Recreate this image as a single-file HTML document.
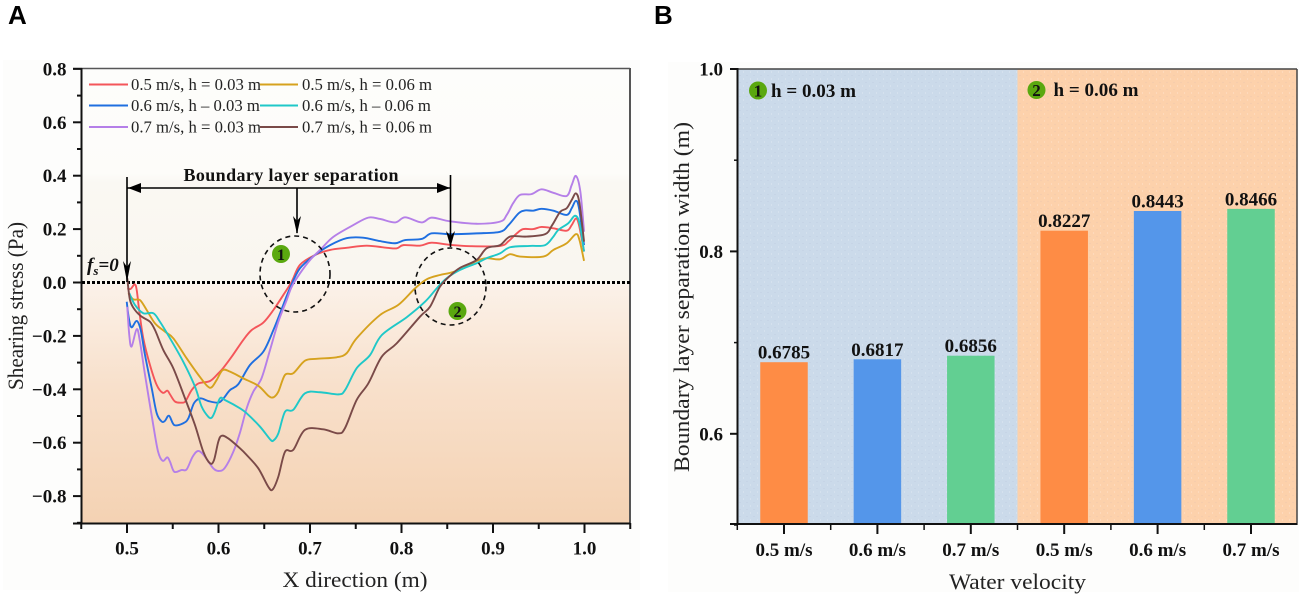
<!DOCTYPE html>
<html lang="en">
<head>
<meta charset="utf-8">
<title>Shearing stress and boundary layer separation width</title>
<style>
html,body{margin:0;padding:0;background:#fff;width:1299px;height:600px;overflow:hidden}
svg{display:block}
text{font-family:"Liberation Serif",serif;fill:#111}
.tick{font-weight:bold;font-size:19px}
.leg{font-size:16.7px;fill:#222}
.title{font-size:22px;fill:#222}
.panel{font-family:"Liberation Sans",sans-serif;font-weight:bold;font-size:26px;fill:#000}
</style>
</head>
<body>
<svg id="fig" xmlns="http://www.w3.org/2000/svg" width="1299" height="600" viewBox="0 0 1299 600">
  <defs>
    <linearGradient id="gradA" x1="0" y1="0" x2="0" y2="1">
      <stop offset="0" stop-color="#fdfdfb"/>
      <stop offset="0.23" stop-color="#fdfcf9"/>
      <stop offset="0.25" stop-color="#faf8f3"/>
      <stop offset="0.47" stop-color="#f9f6ef"/>
      <stop offset="0.48" stop-color="#fbf1e8"/>
      <stop offset="0.7" stop-color="#f8e0cb"/>
      <stop offset="1" stop-color="#f4d2b3"/>
    </linearGradient>
    <pattern id="stipple" width="7" height="7" patternUnits="userSpaceOnUse">
      <circle cx="1.5" cy="2" r="0.6" fill="#ffffff" opacity="0.35"/>
      <circle cx="5" cy="5.5" r="0.6" fill="#8a7fb0" opacity="0.12"/>
    </pattern>
  </defs>
  <rect x="0" y="0" width="1299" height="600" fill="#ffffff"/>
  <rect x="3" y="60" width="637" height="530" fill="#fdfdfc"/>
  <rect x="668" y="62" width="631" height="530" fill="#fdfdfc"/>

  <text class="panel" x="8" y="24">A</text>
  <text class="panel" x="654" y="24">B</text>

  <g id="chartA">
    <rect x="82" y="69" width="548" height="454" fill="url(#gradA)"/>
    <g id="axesA"></g>
    <line x1="82" y1="282.5" x2="630" y2="282.5" stroke="#000" stroke-width="3" stroke-dasharray="3 2"/>
    <g id="linesA"></g>
    <text class="title" x="355" y="587" text-anchor="middle" textLength="145" lengthAdjust="spacingAndGlyphs">X direction (m)</text>
    <text class="title" transform="translate(23,306) rotate(-90)" text-anchor="middle" textLength="168" lengthAdjust="spacingAndGlyphs">Shearing stress (Pa)</text>

    <g>
      <g><line x1="89" x2="128" y1="84.5" y2="84.5" stroke="#f4555a" stroke-width="2"/><text class="leg" x="131" y="90">0.5 m/s, h = 0.03 m</text></g>
      <g><line x1="89" x2="128" y1="105.5" y2="105.5" stroke="#1f6fe0" stroke-width="2"/><text class="leg" x="131" y="111">0.6 m/s, h – 0.03 m</text></g>
      <g><line x1="89" x2="128" y1="127" y2="127" stroke="#b57fe8" stroke-width="2"/><text class="leg" x="131" y="132.5">0.7 m/s, h = 0.03 m</text></g>
      <g><line x1="260" x2="298" y1="84.5" y2="84.5" stroke="#d6a21e" stroke-width="2"/><text class="leg" x="302" y="90">0.5 m/s, h = 0.06 m</text></g>
      <g><line x1="260" x2="298" y1="105.5" y2="105.5" stroke="#1fc8c8" stroke-width="2"/><text class="leg" x="302" y="111">0.6 m/s, h – 0.06 m</text></g>
      <g><line x1="260" x2="298" y1="127" y2="127" stroke="#7a4a48" stroke-width="2"/><text class="leg" x="302" y="132.5">0.7 m/s, h = 0.06 m</text></g>
    </g>

    <g>
      <text x="291" y="181" text-anchor="middle" font-weight="bold" font-size="18" textLength="215">Boundary layer separation</text>
      <line x1="127" y1="188" x2="450" y2="188" stroke="#000" stroke-width="1.6"/>
      <path d="M128 188 L141 183 L141 193 Z" fill="#000"/>
      <path d="M450 188 L437 183 L437 193 Z" fill="#000"/>
      <line x1="127" y1="177" x2="127" y2="282" stroke="#000" stroke-width="1.6"/>
      <path d="M127 282 L123 261 L127 267 L131 261 Z" fill="#000"/>
      <line x1="450.5" y1="175" x2="450.5" y2="247" stroke="#000" stroke-width="1.6"/>
      <path d="M450.5 247 L446 231 L450.5 236 L455 231 Z" fill="#000"/>
      <line x1="297" y1="188" x2="297" y2="233" stroke="#000" stroke-width="1.6"/>
      <path d="M297 234 L293 216 L297 221 L301 216 Z" fill="#000"/>
      <ellipse cx="295" cy="274" rx="35" ry="38" fill="none" stroke="#111" stroke-width="1.6" stroke-dasharray="5 4"/>
      <ellipse cx="450.5" cy="286.5" rx="35.5" ry="38.5" fill="none" stroke="#111" stroke-width="1.6" stroke-dasharray="5 4"/>
      <circle cx="281" cy="254" r="9" fill="#5aa80f"/>
      <text x="281" y="260" text-anchor="middle" font-weight="bold" font-size="16">1</text>
      <circle cx="457.5" cy="311" r="9" fill="#5aa80f"/>
      <text x="457.5" y="317" text-anchor="middle" font-weight="bold" font-size="16">2</text>
      <text x="87" y="271" font-weight="bold" font-style="italic" font-size="19">f<tspan dy="4" font-size="13">s</tspan><tspan dy="-4">=0</tspan></text>
    </g>
  </g>

  <g id="chartB">
    <rect x="738" y="69" width="279.5" height="455" fill="#cbdaea"/>
    <rect x="1017.5" y="69" width="279.5" height="455" fill="#fdd1ab"/>
    <rect x="738" y="69" width="559" height="455" fill="url(#stipple)"/>
    <g id="barsB"></g>
    <g id="axesB"></g>
    <circle cx="758" cy="90.5" r="9" fill="#5aa80f"/>
    <text x="758" y="96.5" text-anchor="middle" font-weight="bold" font-size="17">1</text>
    <text x="771" y="97" font-weight="bold" font-size="19" textLength="85" lengthAdjust="spacingAndGlyphs">h = 0.03 m</text>
    <circle cx="1036.5" cy="90" r="9" fill="#5aa80f"/>
    <text x="1036.5" y="96" text-anchor="middle" font-weight="bold" font-size="17">2</text>
    <text x="1053.5" y="96" font-weight="bold" font-size="19" textLength="85" lengthAdjust="spacingAndGlyphs">h = 0.06 m</text>
    <text class="title" x="1017.5" y="589" text-anchor="middle" textLength="137" lengthAdjust="spacingAndGlyphs">Water velocity</text>
    <text class="title" transform="translate(689,297) rotate(-90)" text-anchor="middle" textLength="350" lengthAdjust="spacingAndGlyphs">Boundary layer separation width (m)</text>
  </g>
</svg>
<script>
// Chart A data
const xTicksA = [0.5, 0.6, 0.7, 0.8, 0.9, 1.0];
const xMinorA = [0.45, 0.55, 0.65, 0.75, 0.85, 0.95, 1.05];
const yTicksA = [0.8, 0.6, 0.4, 0.2, 0, -0.2, -0.4, -0.6, -0.8];
const yMinorA = [0.7, 0.5, 0.3, 0.1, -0.1, -0.3, -0.5, -0.7, -0.9];

const x05h03 = [.5003,.504,.5084,.5106,.5135,.5178,.5251,.5325,.539,.544,.547,.5525,.5598,.564,.5707,.578,.5907,.5998,.605,.6144,.6271,.6363,.649,.66,.6708,.68,.689,.7055,.722,.74,.762,.784,.795,.802,.82,.833,.853,.875,.9077,.917,.926,.933,.944,.953,.966,.9805,.986,.9907,.994,.9995];
const y05h03 = [-.022,-.024,-.007,-.028,-.109,-.209,-.309,-.384,-.413,-.405,-.419,-.446,-.45,-.444,-.403,-.378,-.369,-.34,-.321,-.278,-.215,-.178,-.15,-.103,-.047,.003,.066,.103,.122,.13,.138,.13,.128,.14,.138,.149,.141,.136,.137,.155,.184,.2,.2,.208,.203,.194,.215,.24,.215,.116];

const x06h03 = [.4997,.502,.505,.5106,.515,.5197,.527,.5325,.538,.5415,.546,.5517,.5615,.567,.5732,.58,.5889,.5998,.605,.6126,.6216,.6344,.649,.66,.6708,.678,.689,.7055,.722,.74,.758,.7765,.793,.804,.822,.833,.853,.882,.9077,.917,.928,.935,.944,.953,.966,.9805,.986,.9905,.994,.9995];
const y06h03 = [-.072,-.134,-.168,-.144,-.178,-.272,-.396,-.49,-.521,-.518,-.499,-.534,-.527,-.509,-.452,-.434,-.444,-.45,-.436,-.403,-.381,-.309,-.259,-.178,-.084,-.022,.053,.103,.14,.166,.168,.155,.147,.159,.163,.184,.181,.184,.19,.215,.259,.27,.269,.276,.269,.253,.278,.306,.278,.14];

const x07h03 = [.5003,.5025,.505,.5106,.5142,.5197,.5287,.534,.539,.544,.547,.5517,.5598,.5652,.5718,.578,.5852,.5943,.6005,.607,.6162,.6235,.6308,.638,.647,.6563,.6654,.6745,.68,.689,.70,.7128,.7255,.7473,.7637,.7765,.793,.804,.822,.833,.853,.882,.9077,.915,.922,.9295,.942,.953,.966,.9805,.986,.9907,.9955,.9995];
const y07h03 = [-.091,-.197,-.24,-.175,-.222,-.346,-.534,-.634,-.668,-.655,-.671,-.709,-.702,-.7,-.652,-.631,-.652,-.696,-.706,-.694,-.634,-.562,-.471,-.409,-.359,-.253,-.147,-.066,-.016,.034,.084,.128,.171,.215,.243,.238,.225,.244,.225,.243,.229,.22,.228,.253,.297,.328,.331,.349,.336,.324,.365,.399,.34,.19];

const x05h06 = [.5014,.5069,.5142,.5215,.5306,.5415,.5506,.5652,.578,.5878,.5926,.598,.6046,.6126,.6271,.6435,.6544,.66,.6654,.6727,.6817,.6945,.7073,.7292,.74,.751,.7765,.7965,.8148,.8275,.842,.853,.8675,.882,.893,.9077,.9186,.9295,.955,.966,.9805,.9905,.9945,.9995];
const y05h06 = [-.04,-.063,-.066,-.103,-.153,-.184,-.209,-.284,-.346,-.388,-.392,-.365,-.328,-.334,-.359,-.387,-.424,-.43,-.409,-.346,-.34,-.293,-.286,-.28,-.265,-.209,-.122,-.084,-.022,.012,.028,.036,.053,.081,.091,.087,.106,.097,.097,.122,.147,.181,.159,.081];

const x06h06 = [.5025,.5087,.5178,.5287,.536,.547,.5615,.5743,.5816,.5889,.5926,.596,.6016,.607,.6235,.6308,.6454,.6563,.66,.6654,.6727,.6817,.6945,.711,.731,.7383,.751,.7656,.7784,.8057,.8257,.8385,.8494,.864,.882,.893,.9077,.9186,.9404,.957,.966,.9714,.9823,.9896,.9945,.9995];
const y06h06 = [-.04,-.084,-.115,-.115,-.147,-.209,-.297,-.39,-.465,-.503,-.506,-.484,-.434,-.44,-.471,-.49,-.54,-.587,-.592,-.565,-.484,-.477,-.415,-.411,-.419,-.403,-.321,-.272,-.197,-.13,-.072,-.022,.016,.047,.072,.091,.109,.132,.137,.14,.172,.197,.222,.25,.222,.116];

const x07h06 = [.5003,.5033,.5087,.516,.5251,.5306,.5397,.5506,.5634,.5743,.5834,.5907,.5951,.5998,.6035,.6107,.6235,.6308,.6435,.6544,.6592,.6654,.6727,.6817,.6945,.7145,.731,.7383,.751,.7637,.7784,.7947,.8202,.8311,.842,.853,.864,.882,.893,.9077,.9186,.9368,.957,.9647,.9735,.9805,.986,.9907,.9945,.9995];
const y07h06 = [.016,-.066,-.103,-.128,-.147,-.178,-.253,-.321,-.434,-.534,-.634,-.677,-.665,-.596,-.574,-.584,-.621,-.646,-.696,-.765,-.775,-.727,-.634,-.627,-.552,-.55,-.565,-.545,-.44,-.378,-.278,-.228,-.128,-.091,-.016,.025,.055,.084,.128,.14,.172,.172,.181,.215,.265,.278,.309,.334,.297,.153];

// Chart B data
const barCategories = ["0.5 m/s", "0.6 m/s", "0.7 m/s", "0.5 m/s", "0.6 m/s", "0.7 m/s"];
const barValues = [0.6785, 0.6817, 0.6856, 0.8227, 0.8443, 0.8466];
const barColors = ["#fe8c45", "#5496ea", "#62cf92", "#fe8c45", "#5496ea", "#62cf92"];
const yTicksB = [1.0, 0.8, 0.6];
const yMinorB = [0.9, 0.7, 0.5];

const NS = "http://www.w3.org/2000/svg";
function xA(v){ return 127 + (v - 0.5) * 915; }
function yA(v){ return 282.5 - v * 267; }
function xB(i){ return 784 + i * 93.4; }
function yB(v){ return 525 - (v - 0.5) * 912; }

function make(parent, tag, attrs, txt){
  const el = document.createElementNS(NS, tag);
  for (const k in attrs) el.setAttribute(k, attrs[k]);
  if (txt !== undefined) el.textContent = txt;
  parent.appendChild(el);
  return el;
}
function smooth(xs, ys){
  const p = xs.map((x, i) => [xA(x), yA(ys[i])]);
  let d = "M" + p[0][0].toFixed(2) + " " + p[0][1].toFixed(2);
  for (let i = 0; i < p.length - 1; i++){
    const a = p[Math.max(i - 1, 0)], b = p[i], c = p[i + 1], e = p[Math.min(i + 2, p.length - 1)];
    const c1x = b[0] + (c[0] - a[0]) / 6, c1y = b[1] + (c[1] - a[1]) / 6;
    const c2x = c[0] - (e[0] - b[0]) / 6, c2y = c[1] - (e[1] - b[1]) / 6;
    d += "C" + c1x.toFixed(2) + " " + c1y.toFixed(2) + " " + c2x.toFixed(2) + " " + c2y.toFixed(2) + " " + c[0].toFixed(2) + " " + c[1].toFixed(2);
  }
  return d;
}

const axesA = document.getElementById("axesA");
const linesA = document.getElementById("linesA");
const axesB = document.getElementById("axesB");
const barsB = document.getElementById("barsB");

// Chart A axes
let node;
node = make(axesA, "line", {x1: 73, y1: 68.5, x2: 630, y2: 68.5, stroke: "#555", "stroke-width": 1.5});


node = make(axesA, "line", {x1: 630, y1: 68, x2: 630, y2: 524, stroke: "#555", "stroke-width": 2});


node = make(axesA, "line", {x1: 81.5, y1: 68, x2: 81.5, y2: 524, stroke: "#111", "stroke-width": 2});


node = make(axesA, "line", {x1: 73, y1: 523.5, x2: 630, y2: 523.5, stroke: "#111", "stroke-width": 2});



yTicksA.forEach(function(v){
  const t = make(axesA, "line", {x1: 73, x2: 82, y1: yA(v), y2: yA(v), stroke: "#111", "stroke-width": 2});
  
  
  const s = v < 0 ? "\u2212" + Math.abs(v).toFixed(1) : v.toFixed(1);
  const l = make(axesA, "text", {x: 66.5, y: yA(v) + 6.5, "text-anchor": "end", class: "tick"}, s);
  
  
});
yMinorA.forEach(function(v){
  const t = make(axesA, "line", {x1: 77, x2: 82, y1: yA(v), y2: yA(v), stroke: "#111", "stroke-width": 2});
  
  
});
xTicksA.forEach(function(v){
  const t = make(axesA, "line", {x1: xA(v), x2: xA(v), y1: 523, y2: 533, stroke: "#111", "stroke-width": 2});
  
  
  const l = make(axesA, "text", {x: xA(v), y: 554.5, "text-anchor": "middle", class: "tick"}, v.toFixed(1));
  
  
});
xMinorA.forEach(function(v){
  const t = make(axesA, "line", {x1: xA(v), x2: xA(v), y1: 523, y2: 529, stroke: "#111", "stroke-width": 2});
  
  
});

// Chart A series
let path;
path = make(linesA, "path", {d: smooth(x05h03, y05h03), fill: "none", stroke: "#f4555a", "stroke-width": 1.9, "stroke-linejoin": "round"});


path = make(linesA, "path", {d: smooth(x06h03, y06h03), fill: "none", stroke: "#1f6fe0", "stroke-width": 1.9, "stroke-linejoin": "round"});


path = make(linesA, "path", {d: smooth(x07h03, y07h03), fill: "none", stroke: "#b57fe8", "stroke-width": 1.9, "stroke-linejoin": "round"});


path = make(linesA, "path", {d: smooth(x05h06, y05h06), fill: "none", stroke: "#d6a21e", "stroke-width": 1.9, "stroke-linejoin": "round"});


path = make(linesA, "path", {d: smooth(x06h06, y06h06), fill: "none", stroke: "#1fc8c8", "stroke-width": 1.9, "stroke-linejoin": "round"});


path = make(linesA, "path", {d: smooth(x07h06, y07h06), fill: "none", stroke: "#7a4a48", "stroke-width": 1.9, "stroke-linejoin": "round"});



// Chart B bars
barValues.forEach(function(v, i){
  const b = make(barsB, "rect", {x: xB(i) - 23.75, y: yB(v), width: 47.5, height: yB(0.5) - yB(v) - 1, fill: barColors[i]});
  
  
  const l = make(barsB, "text", {x: xB(i), y: yB(v) - 3.5, "text-anchor": "middle", class: "tick"}, v.toFixed(4));
  
  
});

// Chart B axes
node = make(axesB, "line", {x1: 730, y1: 69, x2: 1297, y2: 69, stroke: "#444", "stroke-width": 1.5});


node = make(axesB, "line", {x1: 1297, y1: 69, x2: 1297, y2: 525, stroke: "#444", "stroke-width": 1.5});


node = make(axesB, "line", {x1: 737.5, y1: 68, x2: 737.5, y2: 525, stroke: "#111", "stroke-width": 2});


node = make(axesB, "line", {x1: 730, y1: 524, x2: 1297, y2: 524, stroke: "#111", "stroke-width": 2});



yTicksB.forEach(function(v){
  const t = make(axesB, "line", {x1: 730, x2: 738, y1: yB(v), y2: yB(v), stroke: "#111", "stroke-width": 2});
  
  
  const l = make(axesB, "text", {x: 723, y: yB(v) + 6.5, "text-anchor": "end", class: "tick"}, v.toFixed(1));
  
  
});
yMinorB.forEach(function(v){
  const t = make(axesB, "line", {x1: 734, x2: 738, y1: yB(v), y2: yB(v), stroke: "#111", "stroke-width": 1.5});
  
  
});
barCategories.forEach(function(c, i){
  const t = make(axesB, "line", {x1: xB(i), x2: xB(i), y1: 524, y2: 534, stroke: "#111", "stroke-width": 2});
  
  
  const m = make(axesB, "line", {x1: xB(i) - 46.7, x2: xB(i) - 46.7, y1: 524, y2: 530, stroke: "#111", "stroke-width": 1.5});
  
  
  const l = make(axesB, "text", {x: xB(i), y: 556, "text-anchor": "middle", class: "tick"}, c);
  
  
});
</script>
</body>
</html>
